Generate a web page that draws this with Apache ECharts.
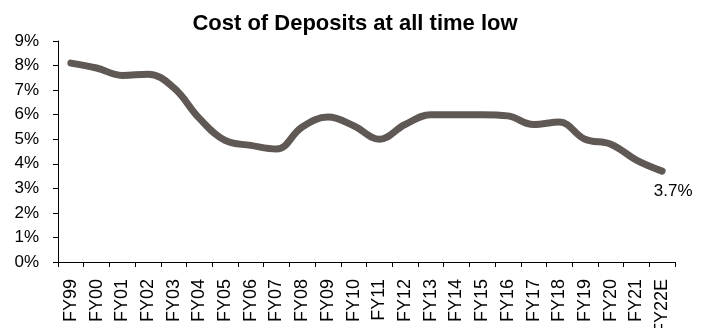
<!DOCTYPE html>
<html>
<head>
<meta charset="utf-8">
<script src="https://cdn.jsdelivr.net/npm/echarts@6/dist/echarts.min.js"></script>
<style>
  html, body { margin: 0; padding: 0; background: #fff; }
  #chart { width: 710px; height: 328px; }
</style>
</head>
<body>
<div id="chart"></div>
<script>
// Fiscal years on the category axis
const years = ['FY99','FY00','FY01','FY02','FY03','FY04','FY05','FY06','FY07','FY08','FY09','FY10',
               'FY11','FY12','FY13','FY14','FY15','FY16','FY17','FY18','FY19','FY20','FY21','FY22E'];
// Cost of deposits, percent
const costOfDeposits = [8.1, 7.9, 7.6, 7.65, 7.1, 5.85, 4.95, 4.75, 4.6, 5.5, 5.9, 5.55,
                        5.0, 5.6, 6.0, 6.0, 6.0, 5.95, 5.6, 5.7, 5.0, 4.8, 4.15, 3.7];
const titleText = 'Cost of Deposits at all time low';

const font = 'Liberation Sans, Arial, sans-serif';
const lastIdx = costOfDeposits.length - 1;

// only the final (estimate) year carries a value label
const seriesData = costOfDeposits.map((v, i) => i === lastIdx
  ? { value: v, label: { show: true, position: 'bottom', offset: [11, 7],
      formatter: p => p.value.toFixed(1) + '%', color: '#000', fontSize: 17, fontFamily: font } }
  : v);

const chart = echarts.init(document.getElementById('chart'), null, { renderer: 'canvas' });
chart.setOption({
  animation: false,
  backgroundColor: '#fff',
  title: {
    text: titleText,
    left: 'center',
    top: 8,
    textStyle: { fontFamily: font, fontSize: 22, fontWeight: 'bold', color: '#000' }
  },
  // fixed plot box; long rotated year labels may run past the bottom edge
  grid: { left: 58, right: 35, top: 41, bottom: 66, containLabel: false, outerBoundsMode: 'none' },
  xAxis: {
    type: 'category',
    data: years,
    boundaryGap: true,
    axisLine: { lineStyle: { color: '#000', width: 1 } },
    axisTick: { show: true, inside: false, length: 5, lineStyle: { color: '#000' } },
    axisLabel: { rotate: 90, interval: 0, margin: 17, color: '#000', fontSize: 18, fontFamily: font },
    splitLine: { show: false }
  },
  yAxis: {
    type: 'value',
    min: 0, max: 9, interval: 1,
    axisLine: { show: true, lineStyle: { color: '#000', width: 1 } },
    axisTick: { show: true, length: 5, lineStyle: { color: '#000' } },
    axisLabel: { formatter: v => v + '%', margin: 19, color: '#000', fontSize: 17, fontFamily: font },
    splitLine: { show: false }
  },
  series: [{
    type: 'line',
    data: seriesData,
    smooth: 0.4,
    showSymbol: true,
    symbol: 'circle',
    symbolSize: 0,
    lineStyle: { color: '#5f5854', width: 7, cap: 'round', join: 'round' },
    itemStyle: { color: '#5f5854' },
    label: { show: false }
  }]
});
</script>
</body>
</html>
